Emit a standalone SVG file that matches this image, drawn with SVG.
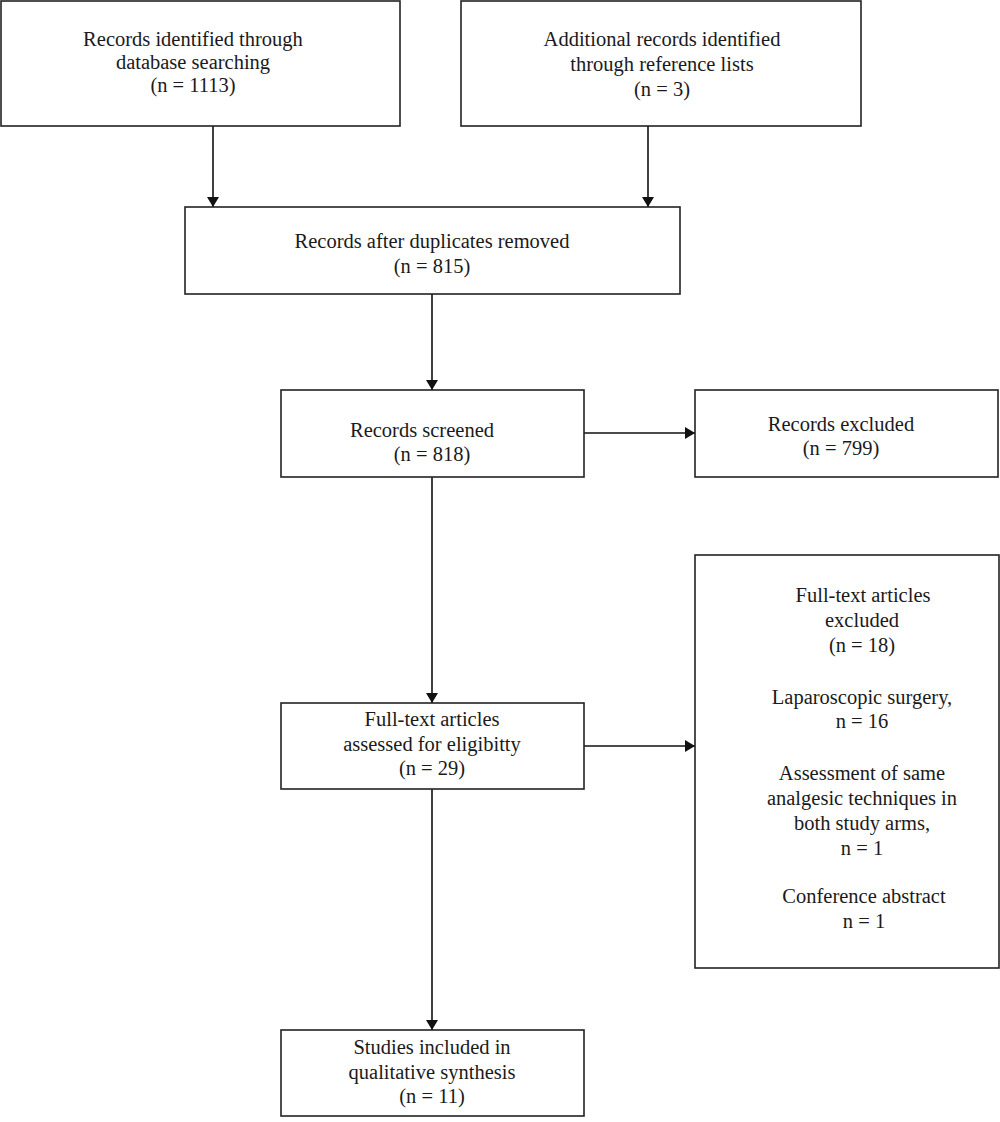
<svg xmlns="http://www.w3.org/2000/svg" width="1000" height="1122" viewBox="0 0 1000 1122">
<style>
rect.box{fill:#fff;stroke:#222;stroke-width:1.6}
text{font-family:"Liberation Serif","DejaVu Serif",serif;font-size:20.5px;fill:#1a1a1a;text-anchor:middle}
.conn line{stroke:#111;stroke-width:1.6;marker-end:url(#ah)}
</style>
<defs>
<marker id="ah" viewBox="0 0 10 12" refX="10" refY="6" markerWidth="10" markerHeight="12" markerUnits="userSpaceOnUse" orient="auto">
<path d="M0,0 L10,6 L0,12 Z" fill="#111"/>
</marker>
</defs>
<rect width="1000" height="1122" fill="#fff"/>
<g class="conn">
<line x1="213" y1="126" x2="213" y2="207"/>
<line x1="648" y1="126" x2="648" y2="207"/>
<line x1="432" y1="294" x2="432" y2="390"/>
<line x1="584" y1="433" x2="695" y2="433"/>
<line x1="432" y1="477" x2="432" y2="703"/>
<line x1="584" y1="746" x2="695" y2="746"/>
<line x1="432" y1="789" x2="432" y2="1030"/>
</g>
<g id="n1"><rect class="box" x="1" y="1" width="399" height="125"/>
<text x="193" y="46">Records identified through</text>
<text x="193" y="69">database searching</text>
<text x="193" y="92">(n = 1113)</text></g>
<g id="n2"><rect class="box" x="461" y="1" width="400" height="125"/>
<text x="662" y="46">Additional records identified</text>
<text x="662" y="71">through reference lists</text>
<text x="662" y="96">(n = 3)</text></g>
<g id="n3"><rect class="box" x="185" y="207" width="495" height="87"/>
<text x="432" y="248">Records after duplicates removed</text>
<text x="432" y="273">(n = 815)</text></g>
<g id="n4"><rect class="box" x="281" y="390" width="303" height="87"/>
<text x="422" y="437">Records screened</text>
<text x="432" y="461">(n = 818)</text></g>
<g id="n5"><rect class="box" x="695" y="390" width="303" height="87"/>
<text x="841" y="431">Records excluded</text>
<text x="841" y="455">(n = 799)</text></g>
<g id="n6"><rect class="box" x="695" y="555" width="304" height="413"/>
<text x="863" y="602">Full-text articles</text>
<text x="862" y="627">excluded</text>
<text x="862" y="652">(n = 18)</text>
<text x="862" y="704">Laparoscopic surgery,</text>
<text x="862" y="728">n = 16</text>
<text x="862" y="780">Assessment of same</text>
<text x="862" y="805">analgesic techniques in</text>
<text x="862" y="830">both study arms,</text>
<text x="862" y="855">n = 1</text>
<text x="864" y="903">Conference abstract</text>
<text x="864" y="928">n = 1</text></g>
<g id="n7"><rect class="box" x="281" y="703" width="303" height="86"/>
<text x="432" y="726">Full-text articles</text>
<text x="432" y="751">assessed for eligibitty</text>
<text x="432" y="775">(n = 29)</text></g>
<g id="n8"><rect class="box" x="281" y="1030" width="303" height="86"/>
<text x="432" y="1054">Studies included in</text>
<text x="432" y="1079">qualitative synthesis</text>
<text x="432" y="1103">(n = 11)</text></g>
</svg>
